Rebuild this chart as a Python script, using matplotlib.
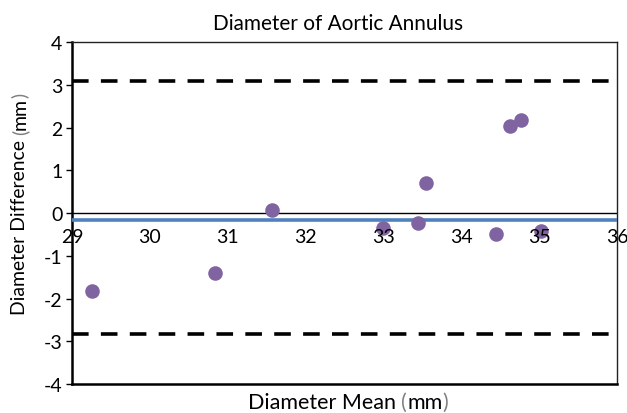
import matplotlib
matplotlib.use("Agg")
import matplotlib.pyplot as plt
from matplotlib.transforms import offset_copy

plt.rcParams['font.family'] = ['Lato', 'DejaVu Sans']

x_mean = [29.26, 30.84, 31.57, 33.00, 33.45, 33.55, 34.44, 34.62, 34.77, 35.02]
y_diff = [-1.82, -1.41, 0.07, -0.36, -0.23, 0.71, -0.48, 2.03, 2.18, -0.43]
bias = -0.16
upper_loa = 3.08
lower_loa = -2.83
x_ticks = [29, 30, 31, 32, 33, 34, 35, 36]
y_ticks = [-4, -3, -2, -1, 0, 1, 2, 3, 4]
title = 'Diameter of Aortic Annulus'
xlabel_parts = ['Diameter Mean ', '(', 'mm', ')']
ylabel_parts = ['Diameter Difference ', '(', 'mm', ')']

fig = plt.figure(figsize=(6.27, 4.14), dpi=100)
ax = fig.add_axes([0.1148, 0.070, 0.8692, 0.826])
ax.set_xlim(29, 36)
ax.set_ylim(-4, 4)

ax.axhline(0, color='black', lw=1.0, zorder=2)
ax.axhline(bias, color='#4F81BD', lw=2.6, zorder=3)
for v in (upper_loa, lower_loa):
    ax.axhline(v, color='black', lw=2.6, dashes=(4.6, 3.4), zorder=2)
ax.scatter(x_mean, y_diff, s=110, color='#8064A2', zorder=4, linewidths=0)

ax.set_yticks(y_ticks)
ax.set_yticklabels([str(t) for t in y_ticks], fontsize=14)
ax.tick_params(axis='y', length=4, width=1, direction='out', pad=3)
ax.set_xticks([])
trans = offset_copy(ax.transData, fig=fig, x=0, y=-11, units='points')
for t in x_ticks:
    ax.text(t, 0, str(t), transform=trans, ha='center', va='top', fontsize=14, zorder=5)

for s in ('left', 'bottom'):
    ax.spines[s].set_linewidth(1.8)
for s in ('top', 'right'):
    ax.spines[s].set_linewidth(1.0)
    ax.spines[s].set_color('#222222')

renderer = fig.canvas.get_renderer()

def width_px(s, size):
    t = fig.text(0, 0, s, fontsize=size)
    w = t.get_window_extent(renderer).width
    t.remove()
    return w

def fit_size(s, target):
    w = width_px(s, 10)
    return 10 * target / w

def multi(parts, colors, cx, cy, target, rotation=0):
    full = ''.join(parts)
    size = fit_size(full, target)
    widths = [width_px(p, size) for p in parts]
    total = sum(widths)
    pos = -total / 2
    for p, c, w in zip(parts, colors, widths):
        if rotation == 0:
            off = (pos, 0)
        else:
            off = (0, pos)
        ax.annotate(p, xy=(cx, cy), xycoords='figure pixels', xytext=off,
                    textcoords='offset pixels', color=c, fontsize=size,
                    rotation=rotation, ha='left' if rotation == 0 else 'center',
                    va='center' if rotation == 0 else 'bottom', annotation_clip=False)
        pos += w

tsize = fit_size(title, 250)
fig.text(338 / 627, 1 - 24 / 414, title, ha='center', va='center', fontsize=tsize)
grey = '#7F7F7F'
multi(xlabel_parts, ['black', grey, 'black', grey], 348, 414 - 403, 200)
multi(ylabel_parts, ['black', grey, 'black', grey], 20, 414 - 204, 222, rotation=90)

fig.savefig('out.png', dpi=100)
